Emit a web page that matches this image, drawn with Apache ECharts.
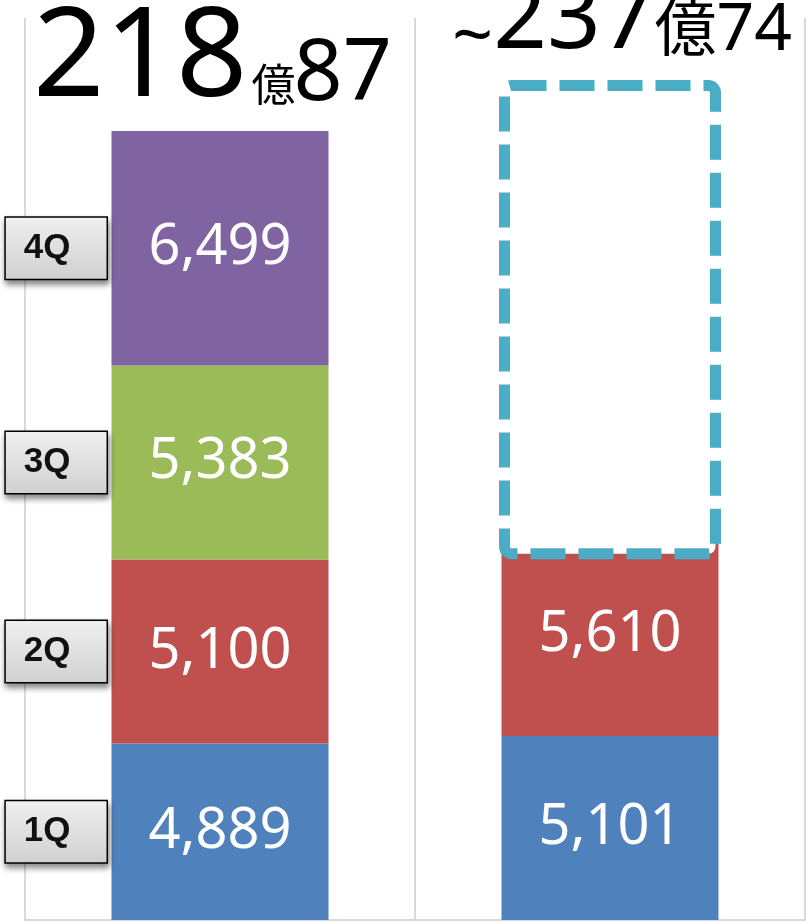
<!DOCTYPE html>
<html>
<head>
<meta charset="utf-8">
<script src="https://cdn.jsdelivr.net/npm/echarts@6/dist/echarts.min.js"></script>
<style>
html,body{margin:0;padding:0;background:#fff;}
#chart{width:807px;height:923px;}
</style>
</head>
<body>
<div id="chart"></div>
<script>
// ---- data ----
const periods = ['前期', '今期'];
const quarters = ['1Q', '2Q', '3Q', '4Q'];
const q1Values = [4889, 5101];
const q2Values = [5100, 5610];
const q3Values = [5383, '-'];
const q4Values = [6499, '-'];
// dashed "forecast" outline on the second bar, as drawn (value units)
const outlineBase = ['-', 10000];
const outlineSpan = ['-', 13280];
// header texts
const leftTotalParts = ['218', '億', '87'];
const rightTotalParts = ['~', '237', '億', '74'];

const quarterValues = [q1Values, q2Values, q3Values, q4Values];
const quarterColors = ['#4F81BD', '#C0504D', '#9BBB59', '#8064A2'];

const chart = echarts.init(document.getElementById('chart'), null, {renderer: 'canvas'});

const fam = "'Noto Sans', 'Noto Sans CJK JP', sans-serif";
const mctx = document.createElement('canvas').getContext('2d');
function buildTitle(parts, sizes, dys, gaps, startX, baseline) {
  const els = [];
  let x = startX;
  parts.forEach((t, i) => {
    x += (gaps[i] || 0);
    const font = sizes[i] + 'px ' + fam;
    mctx.font = font;
    mctx.textBaseline = 'alphabetic';
    const m = mctx.measureText(t);
    const A = m.fontBoundingBoxAscent, D = m.fontBoundingBoxDescent;
    const midY = baseline + (dys[i] || 0) - (A - D) / 2;
    els.push({
      type: 'text', x: x, y: midY, z: 100,
      style: {text: t, font: font, fill: '#000', align: 'left', verticalAlign: 'middle'}
    });
    x += m.width;
  });
  return els;
}

const graphics = []
  .concat(buildTitle(leftTotalParts, [125, 44, 86], [0, -4, 0], [0, 4, -2], 33, 109))
  .concat(buildTitle(rightTotalParts, [72, 94, 62, 66], [10, 0, 0, 0], [0, 0, 0, 0], 452, 57));

const barW = 217;
const series = [];
quarters.forEach((q, i) => {
  series.push({
    name: q, type: 'bar', stack: 'main', barWidth: barW, barGap: '-100%',
    data: quarterValues[i],
    itemStyle: {color: quarterColors[i]},
    label: {
      show: true, position: 'inside', color: '#fff',
      fontSize: 56, fontFamily: fam,
      formatter: p => Number(p.value).toLocaleString('en-US')
    }
  });
});
quarters.forEach((q, i) => {
  series.push({
    name: q, type: 'bar', stack: 'qlabel', barWidth: barW, barGap: '-100%',
    data: quarterValues[i].map((v, j) => j === 0 ? v : '-'),
    itemStyle: {color: 'rgba(0,0,0,0)'},
    silent: true,
    label: {
      show: true, position: 'left', distance: 5,
      formatter: '{a}',
      color: '#111', fontFamily: "'Liberation Sans', Arial, sans-serif", fontWeight: 'bold', fontSize: 35,
      lineHeight: 30,
      padding: [17, 36, 14, 18],
      backgroundColor: new echarts.graphic.LinearGradient(0, 0, 0, 1, [
        {offset: 0, color: '#f0f0f0'}, {offset: 1, color: '#d0d0d0'}
      ]),
      borderColor: '#000', borderWidth: 1.5,
      shadowColor: 'rgba(0,0,0,0.45)', shadowBlur: 6, shadowOffsetX: 1, shadowOffsetY: 4
    }
  });
});
series.push({
  name: 'base', type: 'bar', stack: 'outline', xAxisIndex: 1, barWidth: 222,
  data: outlineBase, silent: true,
  itemStyle: {color: 'rgba(0,0,0,0)'}
});
series.push({
  name: 'outline', type: 'bar', stack: 'outline', xAxisIndex: 1, barWidth: 222,
  data: outlineSpan, silent: true,
  itemStyle: {
    color: '#fff', borderColor: '#4BACC6', borderWidth: 11,
    borderType: [35, 13], borderRadius: 7
  }
});

chart.setOption({
  backgroundColor: '#fff',
  animation: false,
  grid: {left: 25, right: 2, top: 18, bottom: 3},
  xAxis: [{
    type: 'category', data: periods,
    axisLine: {show: true, lineStyle: {color: '#d9d9d9', width: 2}},
    axisTick: {show: false}, axisLabel: {show: false},
    splitLine: {show: true, lineStyle: {color: '#d9d9d9', width: 2}}
  }, {
    type: 'category', data: periods, position: 'bottom', show: false
  }],
  yAxis: {
    type: 'value', min: 0, max: 25000, show: false
  },
  graphic: graphics,
  series: series
});
</script>
</body>
</html>
